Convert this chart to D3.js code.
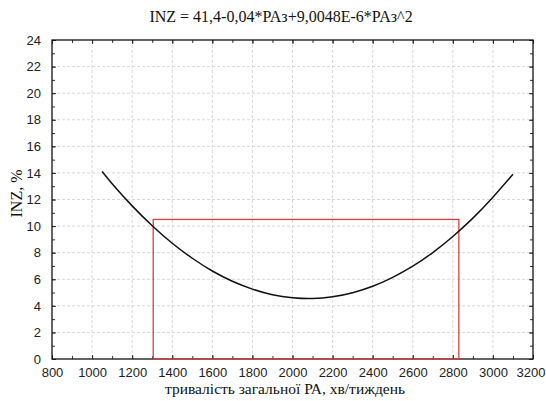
<!DOCTYPE html>
<html>
<head>
<meta charset="utf-8">
<script src="https://cdn.jsdelivr.net/npm/d3@7"></script>
<style>
  html, body { margin: 0; padding: 0; background: #fff; }
  svg { display: block; }
  .tick text { font-family: "Liberation Sans", Arial, sans-serif; font-size: 13px; fill: #222; }
  .serif { font-family: "Liberation Serif", "Times New Roman", serif; fill: #111; }
</style>
</head>
<body>
<div id="chart"></div>
<script>
// fitted curve (x = PA minutes/week, y = INZ %)
const curveX = [1050, 1100, 1200, 1300, 1400, 1500, 1600, 1700, 1800, 1900, 2000,
                2100, 2200, 2300, 2400, 2500, 2600, 2700, 2800, 2900, 3000, 3100]
const curveY = [14.1, 13.19, 11.52, 10.03, 8.71, 7.58, 6.62, 5.85, 5.26, 4.84, 4.61,
                4.55, 4.68, 4.99, 5.47, 6.14, 6.98, 8.01, 9.22, 10.6, 12.17, 13.9]

// red box
const boxX = [1305, 2830]
const boxY = [0, 10.5]

const xTicks = [800, 1000, 1200, 1400, 1600, 1800, 2000, 2200, 2400, 2600, 2800, 3000, 3200]
const yTicks = [0, 2, 4, 6, 8, 10, 12, 14, 16, 18, 20, 22, 24]

const titleText = "INZ = 41,4-0,04*PAз+9,0048E-6*PAз^2"
const xTitle = "тривалість загальної РА, хв/тиждень"
const yTitle = "INZ, %"

const width = 546, height = 401
const margin = { top: 40, right: 13, bottom: 42, left: 52 }
const innerW = width - margin.left - margin.right
const innerH = height - margin.top - margin.bottom

const svg = d3.select("#chart").append("svg")
  .attr("width", width)
  .attr("height", height)
  .attr("viewBox", [0, 0, width, height])

const g = svg.append("g")
  .attr("transform", `translate(${margin.left},${margin.top})`)

const x = d3.scaleLinear().domain([800, 3200]).range([0, innerW])
const y = d3.scaleLinear().domain([0, 24]).range([innerH, 0])

// grid
g.append("g")
  .selectAll("line")
  .data(xTicks.slice(1, -1))
  .join("line")
    .attr("x1", d => x(d)).attr("x2", d => x(d))
    .attr("y1", 0).attr("y2", innerH)
    .attr("stroke", "#d8d8d8").attr("stroke-dasharray", "3,2")

g.append("g")
  .selectAll("line")
  .data(yTicks.slice(1, -1))
  .join("line")
    .attr("y1", d => y(d)).attr("y2", d => y(d))
    .attr("x1", 0).attr("x2", innerW)
    .attr("stroke", "#d8d8d8").attr("stroke-dasharray", "3,2")

// axes with inward ticks
const xMinor = d3.range(800, 3201, 100)
const yMinor = d3.range(0, 25, 1)

function styleAxis(sel) {
  sel.select(".domain").remove()
  sel.selectAll(".tick line").attr("stroke", "#333")
}

g.append("g")
  .attr("transform", `translate(0,${innerH})`)
  .call(d3.axisBottom(x).tickValues(xMinor).tickSize(-3).tickFormat(""))
  .call(styleAxis)
const xAxisG = g.append("g")
  .attr("transform", `translate(0,${innerH})`)
  .call(d3.axisBottom(x).tickValues(xTicks).tickSize(-4).tickPadding(9).tickFormat(d3.format("d")))
  .call(styleAxis)
xAxisG.selectAll("text").attr("dy", "0.71em")
// last label sits at the window edge; keep it inside
xAxisG.selectAll(".tick text")
  .filter(d => d === 3200)
  .attr("text-anchor", "end")
  .attr("x", width - 1 - margin.left - x(3200))

g.append("g")
  .call(d3.axisTop(x).tickValues(xMinor).tickSize(-3).tickFormat(""))
  .call(styleAxis)
g.append("g")
  .call(d3.axisTop(x).tickValues(xTicks).tickSize(-4).tickFormat(""))
  .call(styleAxis)

g.append("g")
  .call(d3.axisLeft(y).tickValues(yMinor).tickSize(-3).tickFormat(""))
  .call(styleAxis)
g.append("g")
  .call(d3.axisLeft(y).tickValues(yTicks).tickSize(-4).tickPadding(11).tickFormat(d3.format("d")))
  .call(styleAxis)

g.append("g")
  .attr("transform", `translate(${innerW},0)`)
  .call(d3.axisRight(y).tickValues(yMinor).tickSize(-3).tickFormat(""))
  .call(styleAxis)
g.append("g")
  .attr("transform", `translate(${innerW},0)`)
  .call(d3.axisRight(y).tickValues(yTicks).tickSize(-4).tickFormat(""))
  .call(styleAxis)

// frame
g.append("rect")
  .attr("width", innerW).attr("height", innerH)
  .attr("fill", "none").attr("stroke", "#111").attr("stroke-width", 1.3)

// red box
g.append("rect")
  .attr("x", x(boxX[0]))
  .attr("y", y(boxY[1]))
  .attr("width", x(boxX[1]) - x(boxX[0]))
  .attr("height", y(boxY[0]) - y(boxY[1]))
  .attr("fill", "none")
  .attr("stroke", "#d94040")
  .attr("stroke-width", 1.3)

// curve
const line = d3.line()
  .x((d, i) => x(curveX[i]))
  .y(d => y(d))
  .curve(d3.curveNatural)

g.append("path")
  .datum(curveY)
  .attr("d", line)
  .attr("fill", "none")
  .attr("stroke", "#111")
  .attr("stroke-width", 1.5)

// texts
svg.append("text")
  .attr("class", "serif")
  .attr("x", 281).attr("y", 22)
  .attr("text-anchor", "middle")
  .attr("font-size", 16)
  .text(titleText)

svg.append("text")
  .attr("class", "serif")
  .attr("x", 285).attr("y", 394)
  .attr("text-anchor", "middle")
  .attr("font-size", 15.5)
  .text(xTitle)

svg.append("text")
  .attr("class", "serif")
  .attr("transform", `translate(22,${margin.top + innerH / 2 - 6}) rotate(-90)`)
  .attr("text-anchor", "middle")
  .attr("font-size", 16)
  .text(yTitle)
</script>
</body>
</html>
